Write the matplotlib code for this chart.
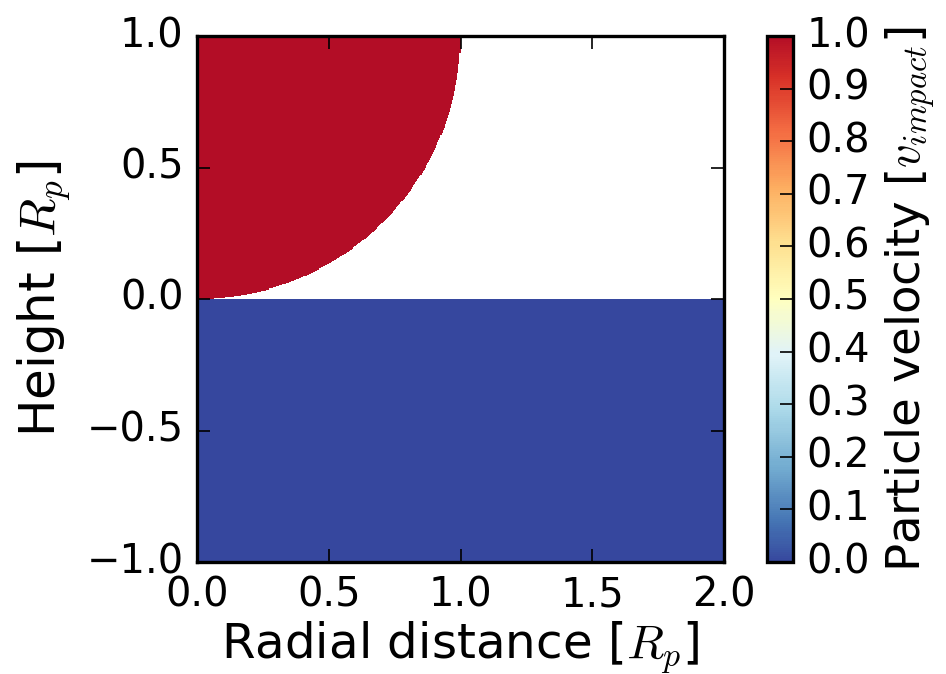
import numpy as np
import matplotlib
matplotlib.use("Agg")
import matplotlib.pyplot as plt
from matplotlib.colors import ListedColormap, Normalize

plt.style.use("classic")
plt.rcParams["figure.facecolor"] = "white"
plt.rcParams["savefig.facecolor"] = "white"

# Data
x_range = [0.0, 2.0]          # radial distance [R_p]
y_range = [-1.0, 1.0]         # height [R_p]
n_cells = 500
below_value = 0.0             # particle velocity below the surface
impact_value = 1.0            # particle velocity inside impact region
circle_center = [0.0, 1.0]
circle_radius = 1.0
xticks = [0.0, 0.5, 1.0, 1.5, 2.0]
yticks = [-1.0, -0.5, 0.0, 0.5, 1.0]
cbar_ticks = [0.0, 0.1, 0.2, 0.3, 0.4, 0.5, 0.6, 0.7, 0.8, 0.9, 1.0]

xe = np.linspace(x_range[0], x_range[1], n_cells + 1)
ye = np.linspace(y_range[0], y_range[1], n_cells + 1)
xc = 0.5 * (xe[:-1] + xe[1:])
yc = 0.5 * (ye[:-1] + ye[1:])
X, Y = np.meshgrid(xc, yc)
Z = np.full(X.shape, np.nan)
Z[Y < 0] = below_value
inside = ((X - circle_center[0])**2 + (Y - circle_center[1])**2 < circle_radius**2) & (Y >= 0)
Z[inside] = impact_value

base = plt.get_cmap("RdYlBu_r")
cmap = ListedColormap(base(np.linspace(0.03, 0.97, 256)))
cmap.set_bad("white")

W, H = 946, 674
dpi = 240
fig = plt.figure(figsize=(W / dpi, H / dpi), dpi=dpi)
ax = fig.add_axes([197 / W, 1 - 562 / H, (724 - 197) / W, (562 - 36) / H])
mesh = ax.pcolormesh(xe, ye, np.ma.masked_invalid(Z), cmap=cmap,
                     norm=Normalize(0, 1), rasterized=True)
ax.set_xlim(x_range)
ax.set_ylim(y_range)
ax.set_xticks(xticks)
ax.set_yticks(yticks)
ax.set_xlabel(r"Radial distance [$R_p$]", fontsize=14.5, labelpad=1)
ax.set_ylabel(r"Height [$R_p$]", fontsize=15, labelpad=4)

cax = fig.add_axes([767 / W, 1 - 562 / H, (793 - 767) / W, (562 - 36) / H])
cb = fig.colorbar(mesh, cax=cax, ticks=cbar_ticks)
cb.set_label(r"Particle velocity [$v_{impact}$]", fontsize=14, labelpad=4)
cb.outline.set_linewidth(1.0)

fig.savefig("out.png", dpi=dpi)
